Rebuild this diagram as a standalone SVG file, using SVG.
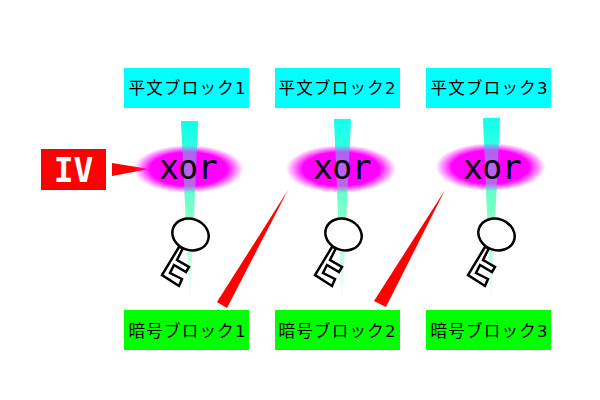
<svg xmlns="http://www.w3.org/2000/svg" xmlns:xlink="http://www.w3.org/1999/xlink" width="600" height="400" viewBox="0 0 600 400">
<style>
.lbl{font-family:"DejaVu Sans","Noto Sans CJK JP",sans-serif;font-size:16.500px;fill:#000;text-anchor:middle}
.xor{font-family:"DejaVu Sans Mono",monospace;font-size:33px;letter-spacing:-0.500px;fill:#000;text-anchor:middle}
.iv{font-family:"DejaVu Sans Mono",monospace;font-weight:bold;font-size:33px;fill:#fff;text-anchor:middle}
.key{fill:#fff;stroke:#000;stroke-width:2.500}
.red{fill:#f00}
</style>
<defs>
<radialGradient id="glow"><stop offset="0" stop-color="#f0f"/><stop offset="0.7" stop-color="#f0f"/><stop offset="1" stop-color="#f0f" stop-opacity="0"/></radialGradient>
<linearGradient id="beam" x1="0" y1="0" x2="0" y2="1"><stop offset="0" stop-color="#10ffee"/><stop offset="0.45" stop-color="#70ffc8"/><stop offset="0.75" stop-color="#c0ffe0"/><stop offset="1" stop-color="#fff"/></linearGradient>
<polygon id="b1" points="181,121 198,121 190,305" fill="url(#beam)"/>
<polygon id="b2" points="334,119 351,119 342,305" fill="url(#beam)"/>
<polygon id="b3" points="483,118 500,118 491,305" fill="url(#beam)"/>
<g id="keyshape"><path class="key" d="M179,247L162,275L179,286L182,279L170,273L174,265L186,272L189,267L177,260L183,248Z"/><ellipse class="key" cx="190.500" cy="234.500" rx="18.500" ry="15.500" transform="rotate(20 190.500 234.500)"/></g>
</defs>
<g id="beams"><use xlink:href="#b1"/><use xlink:href="#b2"/><use xlink:href="#b3"/></g>
<g id="connectors">
<polygon class="red" points="112,163 112,176 149,169"/>
<polygon class="red" points="217,302 227,308 288,190"/>
<polygon class="red" points="374,301 386,307 445,190"/>
</g>
<g id="iv"><rect class="red" x="41" y="149" width="65" height="41"/><text class="iv" x="73.500" y="182">IV</text></g>
<g id="xor1"><ellipse cx="188.500" cy="169" rx="55" ry="24" fill="url(#glow)"/><use xlink:href="#b1" opacity="0.38"/><text class="xor" x="188" y="179">xor</text></g>
<g id="xor2"><ellipse cx="341" cy="169" rx="55" ry="24" fill="url(#glow)"/><use xlink:href="#b2" opacity="0.38"/><text class="xor" x="342" y="179">xor</text></g>
<g id="xor3"><ellipse cx="490.500" cy="167" rx="55" ry="24" fill="url(#glow)"/><use xlink:href="#b3" opacity="0.38"/><text class="xor" x="492" y="179">xor</text></g>
<g id="key1"><use xlink:href="#keyshape"/></g>
<g id="key2"><use xlink:href="#keyshape" x="153"/></g>
<g id="key3"><use xlink:href="#keyshape" x="306"/></g>
<g id="p1"><rect x="124" y="68" width="125" height="40" fill="#0ff"/><text class="lbl" x="187" y="94" textLength="117">平文ブロック1</text></g>
<g id="p2"><rect x="275" y="68" width="125" height="40" fill="#0ff"/><text class="lbl" x="337" y="94" textLength="117">平文ブロック2</text></g>
<g id="p3"><rect x="426" y="68" width="125" height="40" fill="#0ff"/><text class="lbl" x="489" y="94" textLength="117">平文ブロック3</text></g>
<g id="c1"><rect x="124" y="310" width="125" height="40" fill="#0f0"/><text class="lbl" x="187" y="337" textLength="117">暗号ブロック1</text></g>
<g id="c2"><rect x="275" y="310" width="125" height="40" fill="#0f0"/><text class="lbl" x="337" y="337" textLength="117">暗号ブロック2</text></g>
<g id="c3"><rect x="426" y="310" width="125" height="40" fill="#0f0"/><text class="lbl" x="489" y="337" textLength="117">暗号ブロック3</text></g>
</svg>
